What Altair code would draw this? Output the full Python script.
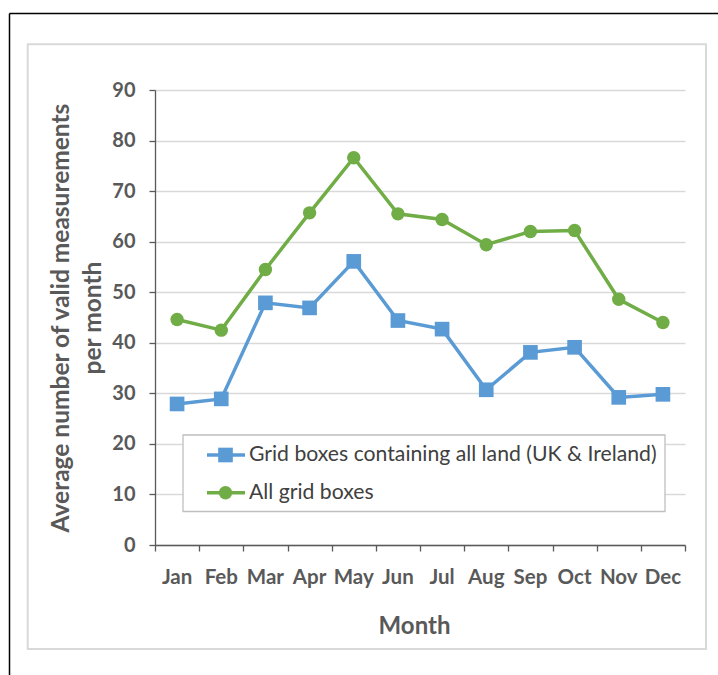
import altair as alt
import pandas as pd

# Monthly averages of valid measurements per grid box
months = ["Jan", "Feb", "Mar", "Apr", "May", "Jun", "Jul", "Aug", "Sep", "Oct", "Nov", "Dec"]
land_only = [27.9, 28.9, 47.9, 46.9, 56.1, 44.4, 42.7, 30.7, 38.1, 39.1, 29.2, 29.8]
all_boxes = [44.6, 42.5, 54.5, 65.7, 76.6, 65.5, 64.4, 59.4, 62.0, 62.2, 48.6, 44.0]

series_names = ["Grid boxes containing all land (UK & Ireland)", "All grid boxes"]
series_values = [land_only, all_boxes]
series_colors = ["#5b9bd5", "#70ad47"]
series_shapes = ["square", "circle"]
series_sizes = [215, 180]
y_ticks = list(range(0, 91, 10))

FONT = "Lato"
AXIS_GREY = "#595959"
W, H = 530, 455

month_df = pd.DataFrame({"month": months, "pos": [i + 0.5 for i in range(len(months))]})

x_scale = alt.Scale(domain=[0, len(months)], nice=False, zero=False)
y_scale = alt.Scale(domain=[0, 90], nice=False)

x_axis = alt.Axis(
    values=list(range(len(months) + 1)), labels=False, grid=False,
    tickSize=6, tickColor=AXIS_GREY, tickWidth=1.3,
    domainColor=AXIS_GREY, domainWidth=1.3,
    title="Month", titleFont=FONT, titleFontSize=24, titleFontWeight="bold",
    titleColor=AXIS_GREY, titleX=259, titleY=88, titleAlign="center",
    titleBaseline="alphabetic",
)
y_axis = alt.Axis(
    values=y_ticks, grid=True, gridColor="#d9d9d9", gridWidth=1.3,
    tickSize=6, tickColor=AXIS_GREY, tickWidth=1.3,
    domainColor=AXIS_GREY, domainWidth=1.3,
    labelFont=FONT, labelFontSize=20, labelFontWeight="bold",
    labelColor=AXIS_GREY, labelPadding=14,
    title=["Average number of valid measurements", "per month"],
    titleFont=FONT, titleFontSize=24.5, titleFontWeight="bold", titleColor=AXIS_GREY,
    titleAngle=270, titleX=-87, titleY=H / 2, titleAlign="center",
    titleBaseline="alphabetic", titleLineHeight=32,
)


def enc_x(field="pos:Q"):
    return alt.X(field, scale=x_scale, axis=x_axis)


def enc_y(field):
    return alt.Y(field, scale=y_scale, axis=y_axis)


one = alt.Data(values=[{}])

# Page frames (outline only, so the axes underneath stay visible)
frame_top = alt.Chart(one).mark_rule(color="black", strokeWidth=1.5).encode(
    x=alt.value(-145.5), x2=alt.value(565), y=alt.value(-76.5))
frame_left = alt.Chart(one).mark_rule(color="black", strokeWidth=1.5).encode(
    x=alt.value(-145.5), y=alt.value(-76.5), y2=alt.value(590))
panel = alt.Chart(one).mark_rect(fillOpacity=0, stroke="#d9d9d9", strokeWidth=2).encode(
    x=alt.value(-127.3), x2=alt.value(551), y=alt.value(-45.7), y2=alt.value(559))

layers = [frame_top, frame_left, panel]

month_labels = alt.Chart(month_df).mark_text(
    font=FONT, fontSize=20.5, fontWeight="bold", color=AXIS_GREY, baseline="alphabetic"
).encode(
    x=enc_x(),
    y=alt.value(H + 39),
    text="month:N",
)
layers.append(month_labels)

for name, vals, col, shp, sz in zip(series_names, series_values, series_colors, series_shapes, series_sizes):
    df = pd.DataFrame({"pos": [i + 0.5 for i in range(len(months))], "value": vals, "month": months})
    base = alt.Chart(df).encode(x=enc_x(), y=enc_y("value:Q"))
    layers.append(base.mark_line(color=col, strokeWidth=3.5))
    layers.append(base.mark_point(shape=shp, filled=True, opacity=1, size=sz, color=col))

# Legend box
layers.append(alt.Chart(one).mark_rect(fill="white", stroke="#bfbfbf", strokeWidth=1.3).encode(
    x=alt.value(28), x2=alt.value(510), y=alt.value(345), y2=alt.value(421.5)))
for i, (name, col, shp, sz) in enumerate(zip(series_names, series_colors, series_shapes, series_sizes)):
    yy = 365 + i * 37.7
    layers.append(alt.Chart(one).mark_rule(color=col, strokeWidth=3.5).encode(
        x=alt.value(52), x2=alt.value(90), y=alt.value(yy)))
    layers.append(alt.Chart(one).mark_point(shape=shp, filled=True, opacity=1, size=sz, color=col).encode(
        x=alt.value(70.5), y=alt.value(yy)))
    layers.append(alt.Chart(one).mark_text(
        font=FONT, fontSize=21.2, color="#404040", align="left", baseline="middle").encode(
        x=alt.value(94), y=alt.value(yy), text=alt.value(name)))

chart = alt.layer(*layers).properties(
    width=W, height=H,
    autosize=alt.AutoSizeParams(type="none"),
    padding={"left": 155, "top": 90, "right": 33, "bottom": 130},
    background="white",
).configure_view(stroke=None)

chart.save("out.html", embed_options={"renderer": "svg", "actions": False})
